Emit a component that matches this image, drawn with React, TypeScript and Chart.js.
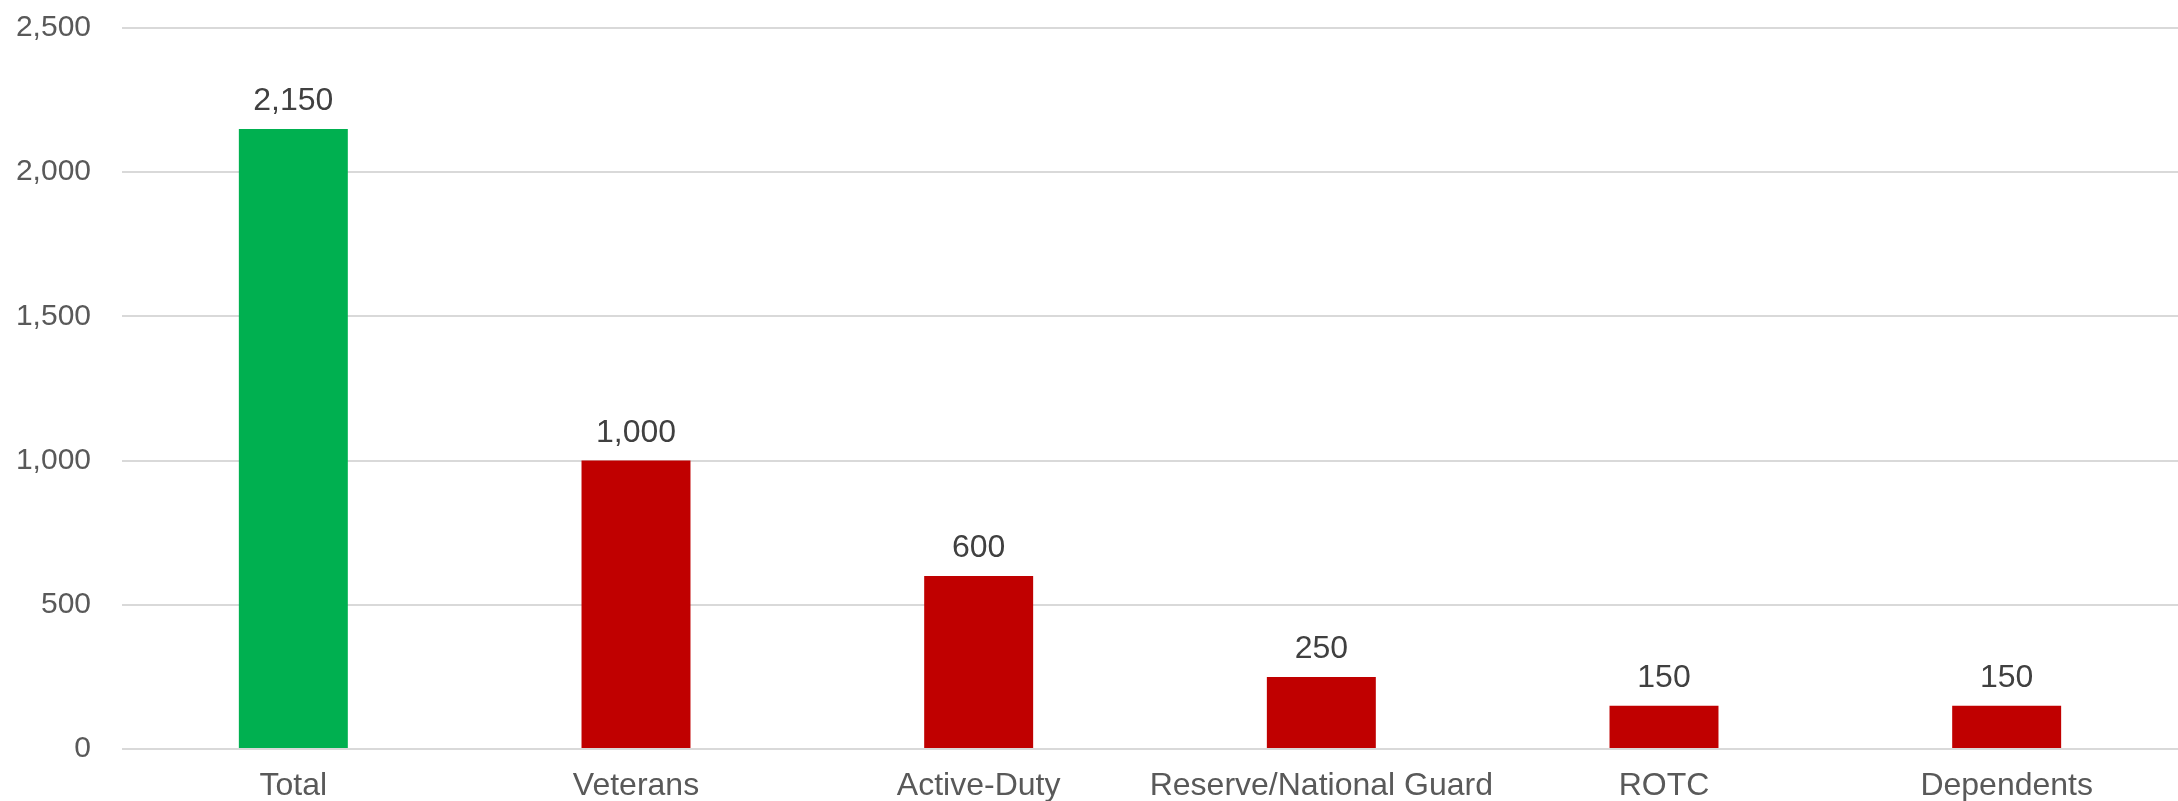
import React, { useEffect, useRef } from "react";
import { Chart, registerables } from "chart.js";

Chart.register(...registerables);

const categories = ["Total", "Veterans", "Active-Duty", "Reserve/National Guard", "ROTC", "Dependents"];
const values = [2150, 1000, 600, 250, 150, 150];
const barColors = ["#00B050", "#C00000", "#C00000", "#C00000", "#C00000", "#C00000"];
const yMin = 0;
const yMax = 2500;
const yStep = 500;

const FONT = "'Liberation Sans', Arial, sans-serif";

const fmt = (v: number) => Number(v).toLocaleString("en-US");

const dataLabelPlugin = {
  id: "dataLabels",
  afterDatasetsDraw(chart: any) {
    const ctx = chart.ctx;
    ctx.save();
    ctx.font = `32px ${FONT}`;
    ctx.fillStyle = "#404040";
    ctx.textAlign = "center";
    ctx.textBaseline = "alphabetic";
    chart.data.datasets.forEach((ds: any, di: number) => {
      const meta = chart.getDatasetMeta(di);
      meta.data.forEach((bar: any, i: number) => {
        ctx.fillText(fmt(ds.data[i]), bar.x, bar.y - 19);
      });
    });
    ctx.restore();
  },
};

export default function App() {
  const ref = useRef<HTMLCanvasElement | null>(null);
  useEffect(() => {
    if (!ref.current) return;
    const chart = new Chart(ref.current, {
      type: "bar",
      data: {
        labels: categories,
        datasets: [
          {
            data: values,
            backgroundColor: barColors,
            borderWidth: 0,
            barPercentage: 0.318,
            categoryPercentage: 1,
          },
        ],
      },
      options: {
        animation: false,
        responsive: true,
        maintainAspectRatio: false,
        devicePixelRatio: 1,
        layout: { padding: { top: 28, right: 0, left: 0, bottom: 0 } },
        plugins: { legend: { display: false }, tooltip: { enabled: false } },
        scales: {
          x: {
            grid: { display: false, drawTicks: false },
            border: { display: false },
            ticks: {
              font: { family: FONT, size: 32 },
              color: "#595959",
              padding: 18,
              maxRotation: 0,
              autoSkip: false,
            },
            afterFit: (scale: any) => {
              scale.height = 91;
              scale.paddingLeft = 0;
              scale.paddingRight = 0;
            },
          },
          y: {
            min: yMin,
            max: yMax,
            grid: { color: "#D9D9D9", lineWidth: 2, drawTicks: false },
            border: { display: false },
            ticks: {
              stepSize: yStep,
              font: { family: FONT, size: 30 },
              color: "#595959",
              padding: 31,
              callback: (v: any) => fmt(v),
            },
            afterFit: (scale: any) => {
              scale.width = 122;
              scale.paddingTop = 0;
              scale.paddingBottom = 0;
            },
          },
        },
      },
      plugins: [dataLabelPlugin],
    });
    return () => chart.destroy();
  }, []);

  return (
    <div style={{ position: "absolute", left: 0, top: 0, width: 2178, height: 801, overflow: "hidden", background: "#fff" }}>
      <div style={{ position: "relative", width: 2178, height: 840 }}>
        <canvas ref={ref} />
      </div>
    </div>
  );
}
